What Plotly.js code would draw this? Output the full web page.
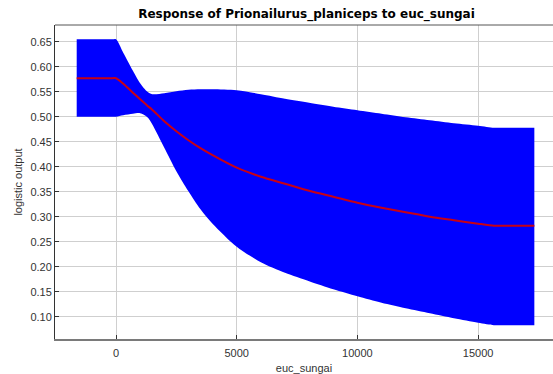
<!DOCTYPE html>
<html>
<head>
<meta charset="utf-8">
<script src="https://cdn.plot.ly/plotly-3.0.1.min.js"></script>
<style>html,body{margin:0;padding:0;background:#fff;}#chart{width:553px;height:374px;}</style>
</head>
<body>
<div id="chart"></div>
<script>
const xValues = [-1628, -150, 0, 300, 700, 1000, 1300, 1500, 2000, 2500, 3000, 3500, 4000, 5000, 6000, 7000, 8000, 9000, 10000, 11000, 12000, 13000, 14000, 15000, 15650, 15800, 17330];
const upperValues = [0.655, 0.655, 0.655, 0.628, 0.592, 0.567, 0.550, 0.545, 0.547, 0.551, 0.554, 0.555, 0.555, 0.553, 0.545, 0.536, 0.528, 0.520, 0.513, 0.506, 0.499, 0.493, 0.487, 0.482, 0.478, 0.478, 0.478];
const lowerValues = [0.500, 0.500, 0.500, 0.503, 0.506, 0.507, 0.499, 0.485, 0.438, 0.391, 0.351, 0.315, 0.286, 0.240, 0.209, 0.188, 0.171, 0.155, 0.141, 0.128, 0.117, 0.107, 0.097, 0.088, 0.083, 0.083, 0.083];
const meanValues = [0.577, 0.577, 0.577, 0.566, 0.548, 0.535, 0.522, 0.514, 0.491, 0.471, 0.453, 0.437, 0.423, 0.398, 0.380, 0.366, 0.352, 0.340, 0.328, 0.318, 0.309, 0.300, 0.293, 0.286, 0.282, 0.282, 0.282];
const xTicks = [0, 5000, 10000, 15000];
const yTicks = [0.10, 0.15, 0.20, 0.25, 0.30, 0.35, 0.40, 0.45, 0.50, 0.55, 0.60, 0.65];

const traces = [
  {x: xValues, y: lowerValues, type: 'scatter', mode: 'lines', line: {width: 0, color: 'rgb(0,0,255)', shape: 'spline', smoothing: 0.8}, hoverinfo: 'skip', showlegend: false},
  {x: xValues, y: upperValues, type: 'scatter', mode: 'lines', fill: 'tonexty', fillcolor: 'rgb(0,0,255)', line: {width: 0, color: 'rgb(0,0,255)', shape: 'spline', smoothing: 0.8}, showlegend: false},
  {x: xValues, y: meanValues, type: 'scatter', mode: 'lines', line: {width: 2, color: 'rgb(200,0,20)', shape: 'spline', smoothing: 0.8}, showlegend: false}
];

const layout = {
  width: 553, height: 374,
  margin: {l: 55, r: 0, t: 25, b: 35, pad: 0},
  paper_bgcolor: '#fff', plot_bgcolor: '#fff',
  font: {family: 'Liberation Sans, Arial, sans-serif', size: 11, color: '#333'},
  title: {text: '<b>Response of Prionailurus_planiceps to euc_sungai</b>', xref: 'paper', x: 0.505, xanchor: 'center', yref: 'container', y: 0.962, yanchor: 'middle', font: {size: 12, color: '#000', family: 'DejaVu Sans, sans-serif'}},
  xaxis: {
    range: [-2527, 18103], tickvals: xTicks, ticktext: xTicks.map(String),
    showgrid: true, gridcolor: '#cfcfcf', gridwidth: 1, zeroline: false,
    showline: true, linecolor: '#7a7a7a', linewidth: 2,
    ticks: 'inside', ticklen: 4, tickcolor: '#333',
    ticklabelstandoff: 3,
    title: {text: 'euc_sungai', standoff: 6, font: {size: 11, color: '#333'}},
    tickfont: {size: 11, color: '#333'}
  },
  yaxis: {
    range: [0.0554, 0.6834], tickvals: yTicks, ticktext: yTicks.map(v => v.toFixed(2)),
    showgrid: true, gridcolor: '#cfcfcf', gridwidth: 1, zeroline: false,
    showline: true, linecolor: '#333', linewidth: 1,
    ticks: 'inside', ticklen: 4, tickcolor: '#333',
    title: {text: 'logistic output', standoff: 5, font: {size: 11, color: '#333'}},
    tickfont: {size: 11, color: '#333'}
  },
  shapes: [{type: 'line', xref: 'paper', yref: 'paper', x0: 0, x1: 1, y0: 1, y1: 1, line: {color: '#555', width: 1}}]
};

Plotly.newPlot('chart', traces, layout, {staticPlot: true, displayModeBar: false});
</script>
</body>
</html>
